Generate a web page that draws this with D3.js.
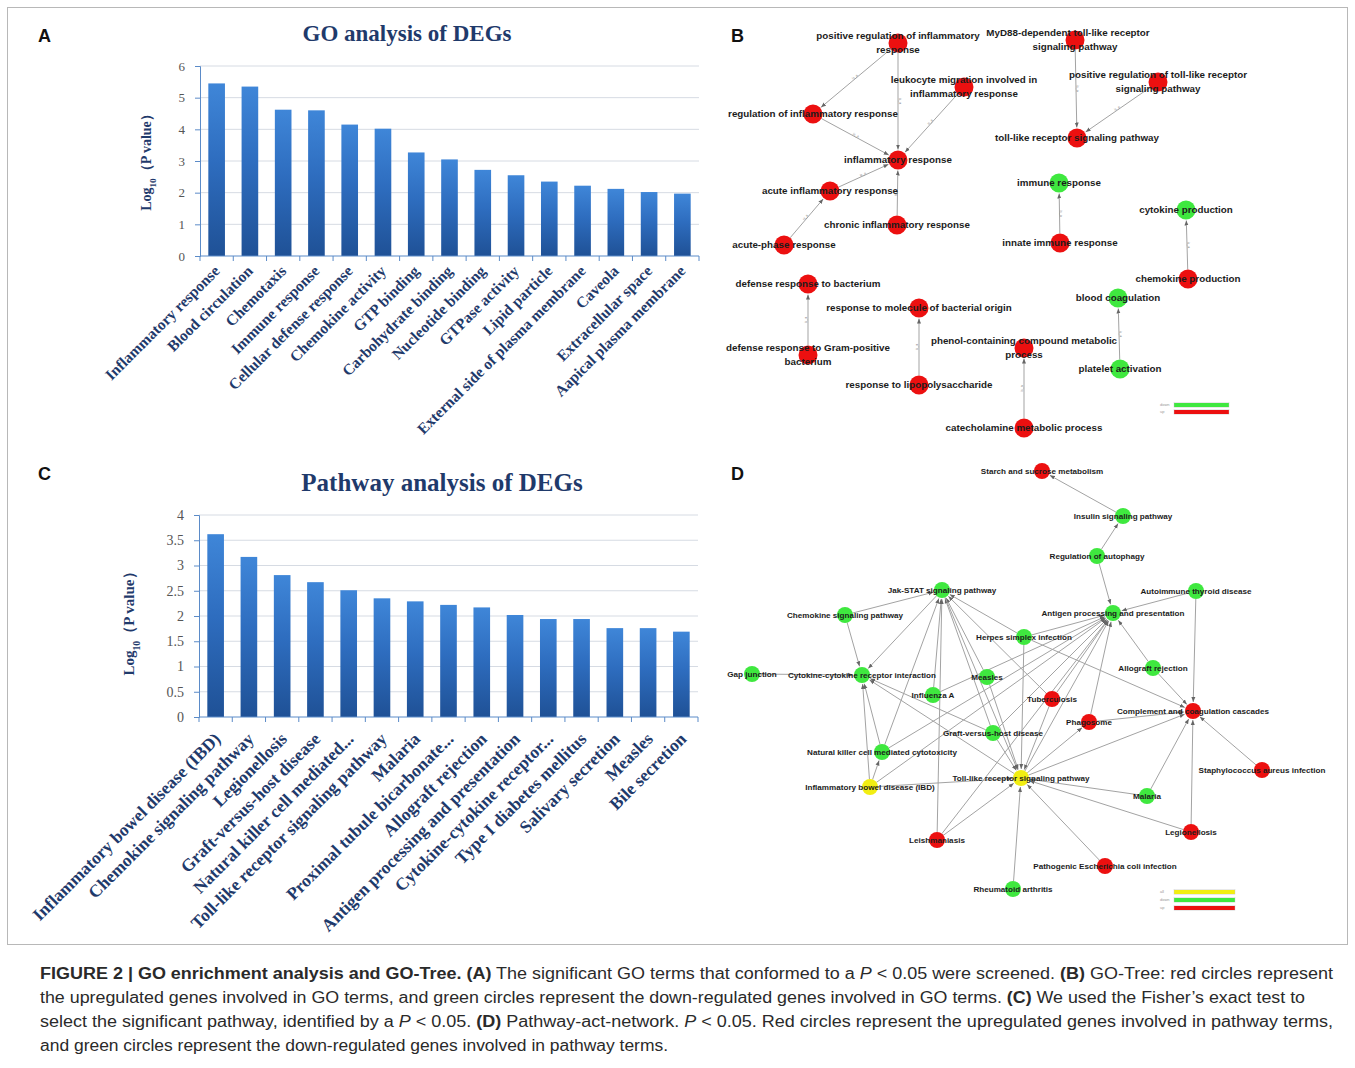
<!DOCTYPE html>
<html>
<head>
<meta charset="utf-8">
<script src="https://cdn.jsdelivr.net/npm/d3@7"></script>
<style>
  body { margin: 0; background: #fff; }
  svg text { white-space: pre; }
</style>
</head>
<body>
<svg id="fig" width="1355" height="1068"></svg>
<script>
// ---- data: bar panels ----
const goTerms = ["Inflammatory response", "Blood circulation", "Chemotaxis", "Immune response",
  "Cellular defense response", "Chemokine activity", "GTP binding", "Carbohydrate binding",
  "Nucleotide binding", "GTPase activity", "Lipid particle", "External side of plasma membrane",
  "Caveola", "Extracellular space", "Aapical plasma membrane"];
const goValues = [5.45, 5.35, 4.62, 4.60, 4.15, 4.02, 3.27, 3.05, 2.72, 2.55, 2.35, 2.22, 2.12, 2.02, 1.97];
const goTicks = [0, 1, 2, 3, 4, 5, 6];

const pathwayTerms = ["Inflammatory bowel disease (IBD)", "Chemokine signaling pathway", "Legionellosis",
  "Graft-versus-host disease", "Natural killer cell mediated...", "Toll-like receptor signaling pathway",
  "Malaria", "Proximal tubule bicarbonate...", "Allograft rejection", "Antigen processing and presentation",
  "Cytokine-cytokine receptor...", "Type I diabetes mellitus", "Salivary secretion", "Measles", "Bile secretion"];
const pathwayValues = [3.62, 3.17, 2.81, 2.67, 2.51, 2.35, 2.29, 2.22, 2.17, 2.02, 1.94, 1.94, 1.76, 1.76, 1.69];
const pathwayTicks = [0, 0.5, 1, 1.5, 2, 2.5, 3, 3.5, 4];

// ---- data: GO-Tree (panel B), layout units ----
const goNodes = [
  { id: "prInf", label: ["positive regulation of inflammatory", "response"], x: 198, y: 23, reg: "up" },
  { id: "myd88", label: ["MyD88-dependent toll-like receptor", "signaling pathway"], x: 375, y: 20, reg: "up" },
  { id: "leuk", label: ["leukocyte migration involved in", "inflammatory response"], x: 264, y: 67, reg: "up" },
  { id: "prTlr", label: ["positive regulation of toll-like receptor", "signaling pathway"], x: 458, y: 62, reg: "up" },
  { id: "regInf", label: ["regulation of inflammatory response"], x: 113, y: 94, reg: "up" },
  { id: "tlr", label: ["toll-like receptor signaling pathway"], x: 377, y: 118, reg: "up" },
  { id: "inf", label: ["inflammatory response"], x: 198, y: 140, reg: "up" },
  { id: "acute", label: ["acute inflammatory response"], x: 130, y: 171, reg: "up" },
  { id: "immune", label: ["immune response"], x: 359, y: 163, reg: "down" },
  { id: "cytokine", label: ["cytokine production"], x: 486, y: 190, reg: "down" },
  { id: "chronic", label: ["chronic inflammatory response"], x: 197, y: 205, reg: "up" },
  { id: "acutePhase", label: ["acute-phase response"], x: 84, y: 225, reg: "up" },
  { id: "innate", label: ["innate immune response"], x: 360, y: 223, reg: "up" },
  { id: "chemokine", label: ["chemokine production"], x: 488, y: 259, reg: "up" },
  { id: "defBact", label: ["defense response to bacterium"], x: 108, y: 264, reg: "up" },
  { id: "blood", label: ["blood coagulation"], x: 418, y: 278, reg: "down" },
  { id: "molBact", label: ["response to molecule of bacterial origin"], x: 219, y: 288, reg: "up" },
  { id: "phenol", label: ["phenol-containing compound metabolic", "process"], x: 324, y: 328, reg: "up" },
  { id: "defGram", label: ["defense response to Gram-positive", "bacterium"], x: 108, y: 335, reg: "up" },
  { id: "platelet", label: ["platelet activation"], x: 420, y: 349, reg: "down" },
  { id: "lps", label: ["response to lipopolysaccharide"], x: 219, y: 365, reg: "up" },
  { id: "catechol", label: ["catecholamine metabolic process"], x: 324, y: 408, reg: "up" }
];
const goEdges = [
  ["prInf", "regInf"], ["prInf", "inf"], ["leuk", "inf"], ["regInf", "inf"], ["chronic", "inf"],
  ["acute", "inf"], ["acutePhase", "acute"], ["myd88", "tlr"], ["prTlr", "tlr"], ["innate", "immune"],
  ["chemokine", "cytokine"], ["defGram", "defBact"], ["lps", "molBact"], ["catechol", "phenol"],
  ["platelet", "blood"]
];
const goLegend = ["down", "up"];

// ---- data: pathway-act-network (panel D), layout units ----
const pathNodes = [
  { id: "starch", label: "Starch and sucrose metabolism", x: 342, y: 16, reg: "up" },
  { id: "insulin", label: "Insulin signaling pathway", x: 423, y: 61, reg: "down" },
  { id: "autophagy", label: "Regulation of autophagy", x: 397, y: 101, reg: "down" },
  { id: "jak", label: "Jak-STAT signaling pathway", x: 242, y: 135, reg: "down" },
  { id: "thyroid", label: "Autoimmune thyroid disease", x: 496, y: 136, reg: "down" },
  { id: "chemokine", label: "Chemokine signaling pathway", x: 145, y: 160, reg: "down" },
  { id: "antigen", label: "Antigen processing and presentation", x: 413, y: 158, reg: "down" },
  { id: "herpes", label: "Herpes simplex infection", x: 324, y: 182, reg: "down" },
  { id: "gap", label: "Gap junction", x: 52, y: 219, reg: "down" },
  { id: "ccr", label: "Cytokine-cytokine receptor interaction", x: 162, y: 220, reg: "down" },
  { id: "measles", label: "Measles", x: 287, y: 222, reg: "down" },
  { id: "allograft", label: "Allograft rejection", x: 453, y: 213, reg: "down" },
  { id: "influenza", label: "Influenza A", x: 233, y: 240, reg: "down" },
  { id: "tb", label: "Tuberculosis", x: 352, y: 244, reg: "up" },
  { id: "complement", label: "Complement and coagulation cascades", x: 493, y: 256, reg: "up" },
  { id: "phagosome", label: "Phagosome", x: 389, y: 267, reg: "up" },
  { id: "gvhd", label: "Graft-versus-host disease", x: 293, y: 278, reg: "down" },
  { id: "nk", label: "Natural killer cell mediated cytotoxicity", x: 182, y: 297, reg: "down" },
  { id: "tlr", label: "Toll-like receptor signaling pathway", x: 321, y: 323, reg: "all" },
  { id: "ibd", label: "Inflammatory bowel disease (IBD)", x: 170, y: 332, reg: "all" },
  { id: "staph", label: "Staphylococcus aureus infection", x: 562, y: 315, reg: "up" },
  { id: "malaria", label: "Malaria", x: 447, y: 341, reg: "down" },
  { id: "leish", label: "Leishmaniasis", x: 237, y: 385, reg: "up" },
  { id: "legion", label: "Legionellosis", x: 491, y: 377, reg: "up" },
  { id: "ecoli", label: "Pathogenic Escherichia coli infection", x: 405, y: 411, reg: "up" },
  { id: "ra", label: "Rheumatoid arthritis", x: 313, y: 434, reg: "down" }
];
const pathEdges = [
  ["insulin", "starch"], ["autophagy", "insulin"], ["autophagy", "antigen"], ["thyroid", "antigen"],
  ["thyroid", "complement"], ["chemokine", "ccr"], ["chemokine", "jak"], ["jak", "ccr"], ["gap", "ccr"],
  ["herpes", "jak"], ["herpes", "antigen"], ["herpes", "complement"], ["herpes", "tlr"],
  ["measles", "jak"], ["measles", "tlr"], ["influenza", "jak"], ["influenza", "antigen"],
  ["leish", "jak"], ["leish", "tlr"], ["leish", "antigen"], ["nk", "jak"], ["nk", "ccr"], ["nk", "antigen"],
  ["ibd", "ccr"], ["ibd", "nk"], ["ibd", "antigen"], ["ibd", "tlr"], ["gvhd", "jak"], ["gvhd", "antigen"],
  ["gvhd", "tlr"], ["gvhd", "ccr"], ["tb", "jak"], ["tb", "tlr"], ["tb", "antigen"], ["tlr", "ccr"],
  ["tlr", "phagosome"], ["tlr", "antigen"], ["tlr", "complement"], ["phagosome", "antigen"],
  ["phagosome", "complement"], ["allograft", "antigen"], ["allograft", "complement"],
  ["staph", "complement"], ["malaria", "complement"], ["malaria", "tlr"], ["legion", "complement"],
  ["legion", "tlr"], ["ecoli", "tlr"], ["ra", "tlr"], ["jak", "tlr"]
];
const pathLegend = ["all", "down", "up"];

// ---- caption ----
const captionLines = [
  [["FIGURE 2 | GO enrichment analysis and GO-Tree. ", "b"], ["(A)", "b"], [" The significant GO terms that conformed to a ", ""], ["P", "i"], [" < 0.05 were screened. ", ""], ["(B)", "b"], [" GO-Tree: red circles represent", ""]],
  [["the upregulated genes involved in GO terms, and green circles represent the down-regulated genes involved in GO terms. ", ""], ["(C)", "b"], [" We used the Fisher\u2019s exact test to", ""]],
  [["select the significant pathway, identified by a ", ""], ["P", "i"], [" < 0.05. ", ""], ["(D)", "b"], [" Pathway-act-network. ", ""], ["P", "i"], [" < 0.05. Red circles represent the upregulated genes involved in pathway terms,", ""]],
  [["and green circles represent the down-regulated genes involved in pathway terms.", ""]]
];
const captionWidths = [1293, 1265, 1293, 628];

// ---- styles ----
const serif = "'Liberation Serif', 'Times New Roman', serif";
const sans = "'Liberation Sans', Arial, sans-serif";
const navy = "#1f3a6b";
const regColor = { up: "#ec1010", down: "#3fe83f", all: "#f2ee12" };

const svg = d3.select("#fig");
const defs = svg.append("defs");

const grad = defs.append("linearGradient").attr("id", "barGrad")
  .attr("x1", 0).attr("y1", 0).attr("x2", 0).attr("y2", 1);
grad.append("stop").attr("offset", "0%").attr("stop-color", "#3f86d8");
grad.append("stop").attr("offset", "45%").attr("stop-color", "#2e6dbf");
grad.append("stop").attr("offset", "100%").attr("stop-color", "#1f5196");

defs.append("marker")
  .attr("id", "arrow")
  .attr("viewBox", "0 -5 10 10")
  .attr("refX", 10).attr("refY", 0)
  .attr("markerWidth", 5).attr("markerHeight", 5)
  .attr("orient", "auto")
  .append("path").attr("d", "M0,-4L10,0L0,4Z").attr("fill", "#666");

// outer frame
svg.append("rect")
  .attr("x", 7.5).attr("y", 7.5).attr("width", 1340).attr("height", 937)
  .attr("fill", "none").attr("stroke", "#b8b8b8");

// panel letters
[["A", 38, 42], ["B", 731, 42], ["C", 38, 480], ["D", 731, 480]].forEach(([t, x, y]) => {
  svg.append("text").attr("x", x).attr("y", y)
    .style("font-family", sans).style("font-weight", "bold").style("font-size", "18px")
    .style("fill", "#111").text(t);
});

function barPanel(cfg) {
  const g = svg.append("g");
  const x = d3.scaleBand().domain(cfg.terms).range([cfg.left, cfg.right])
    .paddingInner(0.5).paddingOuter(0.25);
  const y = d3.scaleLinear().domain([0, cfg.ticks[cfg.ticks.length - 1]]).range([cfg.bottom, cfg.top]);

  // gridlines
  g.selectAll(".grid").data(cfg.ticks.filter(t => t > 0)).enter().append("line")
    .attr("x1", cfg.left).attr("x2", cfg.right)
    .attr("y1", d => y(d)).attr("y2", d => y(d))
    .attr("stroke", "#d6dbe3").attr("stroke-width", 1);

  // bars
  g.selectAll(".bar").data(cfg.values).enter().append("rect")
    .attr("x", (d, i) => x(cfg.terms[i]))
    .attr("y", d => y(d))
    .attr("width", x.bandwidth())
    .attr("height", d => y(0) - y(d))
    .attr("fill", "url(#barGrad)");

  // y axis
  const yAxis = g.append("g").attr("transform", `translate(${cfg.left},0)`)
    .call(d3.axisLeft(y).tickValues(cfg.ticks).tickSize(5).tickPadding(10).tickFormat(d => String(d)));
  yAxis.select(".domain").attr("stroke", "#5b8bc8");
  yAxis.selectAll(".tick line").attr("stroke", "#5b8bc8");
  yAxis.selectAll(".tick text")
    .style("font-family", serif).style("font-size", cfg.tickSize + "px").style("fill", "#555");

  // x axis with category boundary ticks
  g.append("line").attr("x1", cfg.left).attr("x2", cfg.right)
    .attr("y1", y(0)).attr("y2", y(0)).attr("stroke", "#5b8bc8");
  const half = x.step() * x.paddingInner() / 2;
  const bounds = cfg.terms.map(d => x(d) - half).concat([cfg.right]);
  g.selectAll(".xtick").data(bounds).enter().append("line")
    .attr("x1", d => d).attr("x2", d => d)
    .attr("y1", y(0)).attr("y2", y(0) + 5).attr("stroke", "#5b8bc8");

  // x labels
  g.selectAll(".xlab").data(cfg.terms).enter().append("text")
    .attr("transform", d => `translate(${x(d) + x.bandwidth() / 2 + cfg.labDx},${y(0) + cfg.labDy}) rotate(-45)`)
    .attr("text-anchor", "end")
    .style("font-family", serif).style("font-weight", "bold")
    .style("font-size", cfg.labSize + "px").style("fill", navy)
    .text(d => d);

  // title
  g.append("text").attr("x", cfg.titleX).attr("y", cfg.titleY)
    .attr("text-anchor", "middle")
    .style("font-family", serif).style("font-weight", "bold")
    .style("font-size", cfg.titleSize + "px").style("fill", navy)
    .text(cfg.title);

  // y title
  const yt = g.append("text")
    .attr("transform", `translate(${cfg.ytX},${cfg.ytY}) rotate(-90)`)
    .attr("text-anchor", "middle")
    .style("font-family", serif).style("font-weight", "bold")
    .style("font-size", cfg.ytSize + "px").style("fill", navy);
  yt.append("tspan").text("Log");
  yt.append("tspan").attr("baseline-shift", "sub").style("font-size", (cfg.ytSize * 0.65) + "px").text("10");
  yt.append("tspan").text("\uFF08P value\uFF09");
}

barPanel({
  terms: goTerms, values: goValues, ticks: goTicks,
  left: 200, right: 699, top: 66, bottom: 256,
  tickSize: 13, labSize: 15.5, labDx: 4, labDy: 16,
  title: "GO analysis of DEGs", titleX: 407, titleY: 41, titleSize: 23,
  ytX: 151, ytY: 159, ytSize: 14
});

barPanel({
  terms: pathwayTerms, values: pathwayValues, ticks: pathwayTicks,
  left: 199, right: 698, top: 515, bottom: 717,
  tickSize: 14, labSize: 17.5, labDx: 6, labDy: 23,
  title: "Pathway analysis of DEGs", titleX: 442, titleY: 491, titleSize: 25,
  ytX: 134, ytY: 620, ytSize: 15
});

function network(cfg) {
  const g = svg.append("g");
  const sx = d3.scaleLinear().domain([0, 560]).range([cfg.x0, cfg.x0 + 560]);
  const sy = d3.scaleLinear().domain([0, 460]).range([cfg.y0, cfg.y0 + 460]);
  const byId = new Map(cfg.nodes.map(d => [d.id, d]));
  const r = cfg.radius;

  const links = cfg.edges.map(([s, t]) => {
    const a = byId.get(s), b = byId.get(t);
    const x1 = sx(a.x), y1 = sy(a.y), x2 = sx(b.x), y2 = sy(b.y);
    const len = Math.hypot(x2 - x1, y2 - y1);
    const ux = (x2 - x1) / len, uy = (y2 - y1) / len;
    return { x1: x1 + ux * r, y1: y1 + uy * r, x2: x2 - ux * (r + 1), y2: y2 - uy * (r + 1) };
  });

  g.selectAll(".edge").data(links).enter().append("line")
    .attr("x1", d => d.x1).attr("y1", d => d.y1)
    .attr("x2", d => d.x2).attr("y2", d => d.y2)
    .attr("stroke", "#a3a3a3").attr("stroke-width", 1)
    .attr("marker-end", "url(#arrow)");

  if (cfg.edgeLabel) {
    g.selectAll(".elab").data(links).enter().append("text")
      .attr("transform", d => {
        let ang = Math.atan2(d.y2 - d.y1, d.x2 - d.x1) * 180 / Math.PI;
        if (ang > 90) ang -= 180;
        if (ang < -90) ang += 180;
        return `translate(${(d.x1 + d.x2) / 2},${(d.y1 + d.y2) / 2}) rotate(${ang})`;
      })
      .attr("text-anchor", "middle").attr("dy", "-0.6")
      .style("font-family", sans).style("font-size", "3.5px").style("fill", "#8a8a8a")
      .text(cfg.edgeLabel);
  }

  g.selectAll(".node").data(cfg.nodes).enter().append("circle")
    .attr("cx", d => sx(d.x)).attr("cy", d => sy(d.y)).attr("r", r)
    .attr("fill", d => regColor[d.reg]);

  const lab = g.selectAll(".nlab").data(cfg.nodes).enter().append("text")
    .attr("text-anchor", "middle")
    .style("font-family", sans).style("font-weight", "bold")
    .style("font-size", cfg.fontSize + "px").style("fill", "#1c1c1c");
  lab.each(function (d) {
    const lines = Array.isArray(d.label) ? d.label : [d.label];
    const t = d3.select(this);
    lines.forEach((line, i) => {
      const off = lines.length === 1 ? 0 : (i === 0 ? -7 : 7);
      const dx = (cfg.labelShift && cfg.labelShift[d.id] && i === 0) ? cfg.labelShift[d.id] : 0;
      t.append("tspan")
        .attr("x", sx(d.x) + dx).attr("y", sy(d.y) + off)
        .attr("dy", "0.35em").text(line);
    });
  });

  // legend
  const lg = g.append("g");
  cfg.legend.forEach((k, i) => {
    const ly = cfg.legendY + i * cfg.legendStep;
    lg.append("line").attr("x1", cfg.legendX).attr("x2", cfg.legendX + cfg.legendW)
      .attr("y1", ly).attr("y2", ly)
      .attr("stroke", regColor[k]).attr("stroke-width", 4);
    lg.append("rect").attr("x", cfg.legendX).attr("y", ly - 2.5)
      .attr("width", cfg.legendW).attr("height", 5)
      .attr("fill", "none").attr("stroke", "#c9c9c9").attr("stroke-width", 0.4);
    lg.append("text").attr("x", cfg.legendX - 14).attr("y", ly).attr("dy", "0.35em")
      .style("font-family", sans).style("font-size", "4px").style("fill", "#999")
      .text(k);
  });
}

network({
  nodes: goNodes, edges: goEdges, x0: 700, y0: 20, radius: 9.5, fontSize: 9.8,
  labelShift: { myd88: -7 }, edgeLabel: "is_a",
  legend: goLegend, legendX: 1174, legendY: 405, legendW: 55, legendStep: 7
});

network({
  nodes: pathNodes, edges: pathEdges, x0: 700, y0: 455, radius: 8, fontSize: 8.1,
  legend: pathLegend, legendX: 1174, legendY: 892, legendW: 61, legendStep: 8
});

// caption
const cap = svg.append("g");
captionLines.forEach((segs, i) => {
  const t = cap.append("text")
    .attr("x", 40).attr("y", 979 + i * 24)
    .attr("textLength", captionWidths[i]).attr("lengthAdjust", "spacingAndGlyphs")
    .style("font-family", "'Liberation Sans Narrow', 'Arial Narrow', 'Liberation Sans', sans-serif")
    .style("font-size", "16px").style("fill", "#2a2a2a");
  segs.forEach(([txt, st]) => {
    t.append("tspan")
      .style("font-weight", st === "b" ? "bold" : "normal")
      .style("font-style", st === "i" ? "italic" : "normal")
      .text(txt);
  });
});
</script>
</body>
</html>
